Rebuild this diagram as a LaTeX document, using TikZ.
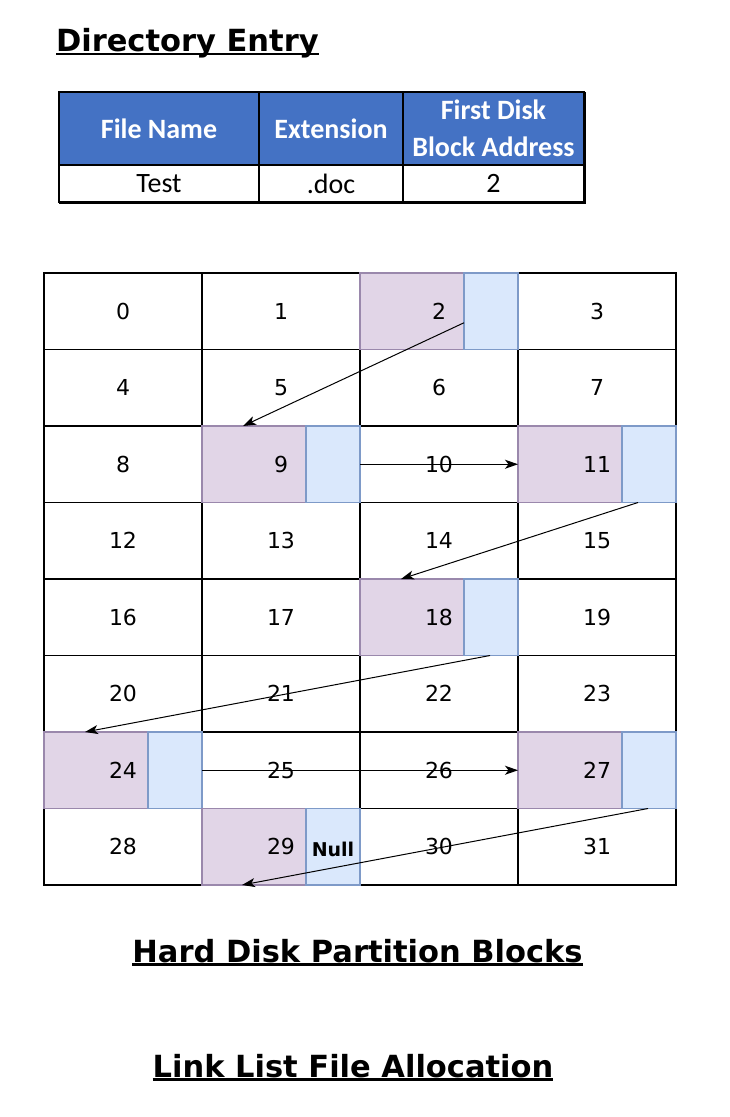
\documentclass[tikz,border=0pt]{standalone}
\usepackage{fontspec}
\setmainfont{DejaVu Sans}
\newfontfamily\calfont{Carlito}
\usetikzlibrary{arrows.meta,calc}
\definecolor{hdr}{HTML}{4472C4}
\definecolor{pfill}{HTML}{E1D5E7}
\definecolor{pdraw}{HTML}{9A88AC}
\definecolor{bfill}{HTML}{DAE8FC}
\definecolor{bdraw}{HTML}{7E9AC8}
\begin{document}
\begin{tikzpicture}[x=1pt,y=-1pt,
  cell/.style={draw=black,line width=1.4pt,minimum width=158pt,minimum height=76.5pt,inner sep=0pt,outer sep=0pt},
  num/.style={font=\fontsize{22}{26}\selectfont,inner sep=0pt},
  pbox/.style={draw=pdraw,fill=pfill,line width=1.4pt,minimum width=104pt,minimum height=76.5pt,inner sep=0pt,outer sep=0pt},
  bbox/.style={draw=bdraw,fill=bfill,line width=1.4pt,minimum width=54pt,minimum height=76.5pt,inner sep=0pt,outer sep=0pt},
  link/.style={line width=1pt,-{Stealth[length=13pt,width=9pt,inset=3.5pt]}},
  title/.style={font=\bfseries\fontsize{30.5}{36}\selectfont,inner sep=0pt,outer sep=0pt},
  uline/.style={line width=2.5pt},
  th/.style={draw=black,fill=hdr,text=white,line width=1.5pt,inner sep=0pt,outer sep=0pt,minimum height=73pt,align=center,font=\calfont\bfseries\fontsize{28}{37}\selectfont},
  td/.style={draw=black,fill=white,line width=1.5pt,inner sep=0pt,outer sep=0pt,minimum height=37pt,font=\calfont\fontsize{28}{34}\selectfont}
]
\fill[white] (0,0) rectangle (729,1117);
\useasboundingbox (0,0) rectangle (729,1117);

% Title
\node[title,anchor=base west] (t1) at (56,51) {Directory Entry};
\draw[uline] ([yshift=-3pt]t1.base west) -- ([yshift=-3pt]t1.base east);

% Directory table
\node[th,minimum width=200pt] (th1) at (159,128.5) {File Name};
\node[th,minimum width=144pt] (th2) at (331,128.5) {Extension};
\node[th,minimum width=181pt] (th3) at (493.5,128.5) {First Disk\\Block Address};
\node[td,minimum width=200pt] (td1) at (159,183.5) {Test};
\node[td,minimum width=144pt] (td2) at (331,183.5) {.doc};
\node[td,minimum width=181pt] (td3) at (493.5,183.5) {2};
\draw[line width=3pt] (td1.south west) -- (td3.south east) -- (th3.north east);

% Disk blocks grid
\foreach \n in {0,...,31}{
  \pgfmathtruncatemacro{\col}{mod(\n,4)}
  \pgfmathtruncatemacro{\row}{int(\n/4)}
  \node[cell] (c\n) at ({123+158*\col},{311.25+76.5*\row}) {};
}

% Highlighted (allocated) blocks
\foreach \n in {2,9,11,18,24,27,29}{
  \node[pbox] (p\n) at ($(c\n.west)+(52,0)$) {};
  \node[bbox] (b\n) at ($(c\n.east)+(-27,0)$) {};
}

% Block numbers
\foreach \n in {0,...,31}{
  \node[num] (n\n) at (c\n) {\n};
}
\node[font=\bfseries\fontsize{19}{23}\selectfont,inner sep=0pt] (null) at ([yshift=-3pt]b29.center) {Null};

% Links
\draw[link] ([yshift=-11.5pt]b2.west) -- ($(p9.north west)+(41,0)$);
\draw[link] (b9.east) -- (p11.west);
\draw[link] ($(b11.south west)+(16,0)$) -- ($(p18.north west)+(41,0)$);
\draw[link] ($(b18.south west)+(26,0)$) -- ($(p24.north west)+(41,0)$);
\draw[link] (b24.east) -- (p27.west);
\draw[link] ($(b27.south west)+(26,0)$) -- ($(p29.south west)+(40,0)$);

% Captions
\node[title,anchor=base] (t2) at (357.5,962) {Hard Disk Partition Blocks};
\draw[uline] ([yshift=-2.5pt]t2.base west) -- ([yshift=-2.5pt]t2.base east);
\node[title,anchor=base] (t3) at (353,1077) {Link List File Allocation};
\draw[uline] ([yshift=-2.5pt]t3.base west) -- ([yshift=-2.5pt]t3.base east);
\end{tikzpicture}
\end{document}
